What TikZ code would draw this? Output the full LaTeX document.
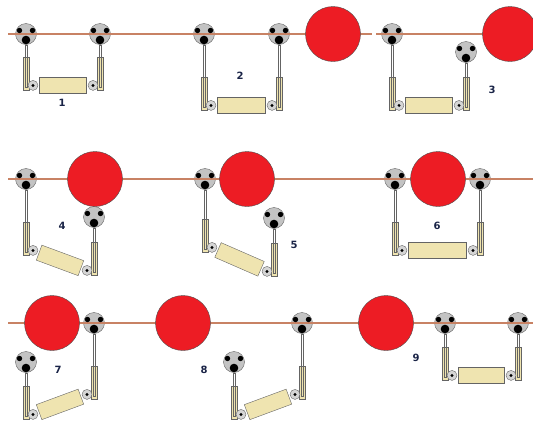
\documentclass[tikz,border=0pt]{standalone}
\usepackage{fontspec}
\setsansfont{DejaVu Sans}
\usetikzlibrary{calc}

\definecolor{railbrown}{RGB}{200,130,100}
\definecolor{ballred}{RGB}{237,28,36}
\definecolor{cream}{RGB}{239,228,176}
\definecolor{steel}{RGB}{195,195,195}
\definecolor{rimgray}{RGB}{100,100,100}
\definecolor{numblue}{RGB}{25,35,70}

\pgfdeclarelayer{railway}
\pgfdeclarelayer{foreground}
\pgfsetlayers{main,railway,foreground}

% one hanger: #1 name, (#2,#3) trolley head, #4 top of the sleeve, #5 side of the pivot
\newcommand{\hanger}[5]{%
  \node[head] (h#1) at (#2,#3) {};
  \node[tube] (t#1) at (#2,#4) {};
  \node[pivot] (p#1) at ([xshift=#5pt,yshift=5pt]t#1.south) {};
  \fill[black] (p#1.center) circle (1.6pt);
  \begin{pgfonlayer}{foreground}
    \fill ([shift={(-6.5pt,3.5pt)}]h#1.center) circle (2.7pt)
          ([shift={(6.5pt,3.5pt)}]h#1.center) circle (2.7pt)
          ([shift={(0pt,-6pt)}]h#1.center) circle (4.3pt);
  \end{pgfonlayer}
}
% the load slung between two pivots
\newcommand{\carriage}[3]{%
  \path let \p1=($(#3)-(#2)$), \n1={veclen(\x1,\y1)-13pt} in
    (#2) -- node[body,sloped,minimum width=\n1] (#1) {} (#3);
}
% a rod piece: #1 name, from #2 to #3, core colour #4
\newcommand{\rodlink}[4]{%
  \path let \p1=($(#3)-(#2)$), \n1={veclen(\x1,\y1)} in
    (#2) -- node[rodpiece,sloped,minimum width=\n1,fill=#4] (#1) {} (#3);
}

\begin{document}
\begin{tikzpicture}[x=1pt,y=-1pt,
  head/.style={circle,draw=rimgray,fill=steel,minimum size=21pt,inner sep=0pt},
  tube/.style={rectangle,draw=rimgray,fill=cream,minimum width=6pt,minimum height=33pt,inner sep=0pt,anchor=north},
  pivot/.style={circle,draw=rimgray,fill=steel!70,minimum size=10pt,inner sep=0pt},
  body/.style={rectangle,draw=rimgray,fill=cream,minimum height=16pt,inner sep=0pt},
  rodpiece/.style={rectangle,draw=rimgray,minimum height=2.2pt,inner sep=0pt},
  rail/.style={draw=railbrown,line width=2.5pt},
  ball/.style={circle,draw=black!70,fill=ballred,minimum size=55pt,inner sep=0pt},
  num/.style={text=numblue,font=\sffamily\bfseries\fontsize{10}{12}\selectfont}]
  \useasboundingbox (0,0) rectangle (533,421);

  % hangers, row by row
  \hanger{1l}{26}{34}{57}{7}
  \hanger{1r}{100}{34}{57}{-7}
  \hanger{2l}{204}{34}{77}{7}
  \hanger{2r}{279}{34}{77}{-7}
  \hanger{3l}{392}{34}{77}{7}
  \hanger{3r}{466}{52}{77}{-7}

  \hanger{4l}{26}{179}{222}{7}
  \hanger{4r}{94}{217}{242}{-7}
  \hanger{5l}{205}{179}{219}{7}
  \hanger{5r}{274}{218}{243}{-7}
  \hanger{6l}{395}{179}{222}{7}
  \hanger{6r}{480}{179}{222}{-7}

  \hanger{7l}{26}{362}{386}{7}
  \hanger{7r}{94}{323}{366}{-7}
  \hanger{8l}{234}{362}{386}{7}
  \hanger{8r}{302}{323}{366}{-7}
  \hanger{9l}{445}{323}{347}{7}
  \hanger{9r}{518}{323}{347}{-7}

  \carriage{b1}{p1l}{p1r}
  \carriage{b2}{p2l}{p2r}
  \carriage{b3}{p3l}{p3r}
  \carriage{b4}{p4l}{p4r}
  \carriage{b5}{p5l}{p5r}
  \carriage{b6}{p6l}{p6r}
  \carriage{b7}{p7l}{p7r}
  \carriage{b8}{p8l}{p8r}
  \carriage{b9}{p9l}{p9r}

  % suspension rods, head down into the sleeve
  \foreach \s in {1l,1r,2l,2r,3l,3r,4l,4r,5l,5r,6l,6r,7l,7r,8l,8r,9l,9r} {
    \coordinate (e\s) at ([yshift=3pt]t\s.south);
    \rodlink{r\s}{h\s.south}{t\s.north}{white}
    \rodlink{q\s}{t\s.north}{e\s}{cream}
  }

  % obstacles
  \begin{pgfonlayer}{foreground}
    \node[ball] (ball2) at (333,34) {};
    \node[ball] (ball3) at (510,34) {};
    \node[ball] (ball4) at (95,179) {};
    \node[ball] (ball5) at (247,179) {};
    \node[ball] (ball6) at (438,179) {};
    \node[ball] (ball7) at (52,323) {};
    \node[ball] (ball8) at (183,323) {};
    \node[ball] (ball9) at (386,323) {};
  \end{pgfonlayer}

  % rails
  \coordinate (w1) at (8,34);
  \coordinate (gap1) at (372,34);
  \coordinate (gap2) at (376,34);
  \coordinate (w2) at (8,179);
  \coordinate (e2) at (533,179);
  \coordinate (w3) at (8,323);
  \coordinate (e3) at (533,323);
  \begin{pgfonlayer}{railway}
    \draw[rail] (w1) -- (ball2.center) -- (gap1) (gap2) -- (ball3.center);
    \draw[rail] (w2) -- (e2);
    \draw[rail] (w3) -- (e3);
  \end{pgfonlayer}

  % step numbers
  \node[num] (n1) at (62,103) {1};
  \node[num] (n2) at (240,76) {2};
  \node[num] (n3) at (492,90) {3};
  \node[num] (n4) at (62,226) {4};
  \node[num] (n5) at (294,245) {5};
  \node[num] (n6) at (437,226) {6};
  \node[num] (n7) at (58,370) {7};
  \node[num] (n8) at (204,370) {8};
  \node[num] (n9) at (416,358) {9};
\end{tikzpicture}
\end{document}
